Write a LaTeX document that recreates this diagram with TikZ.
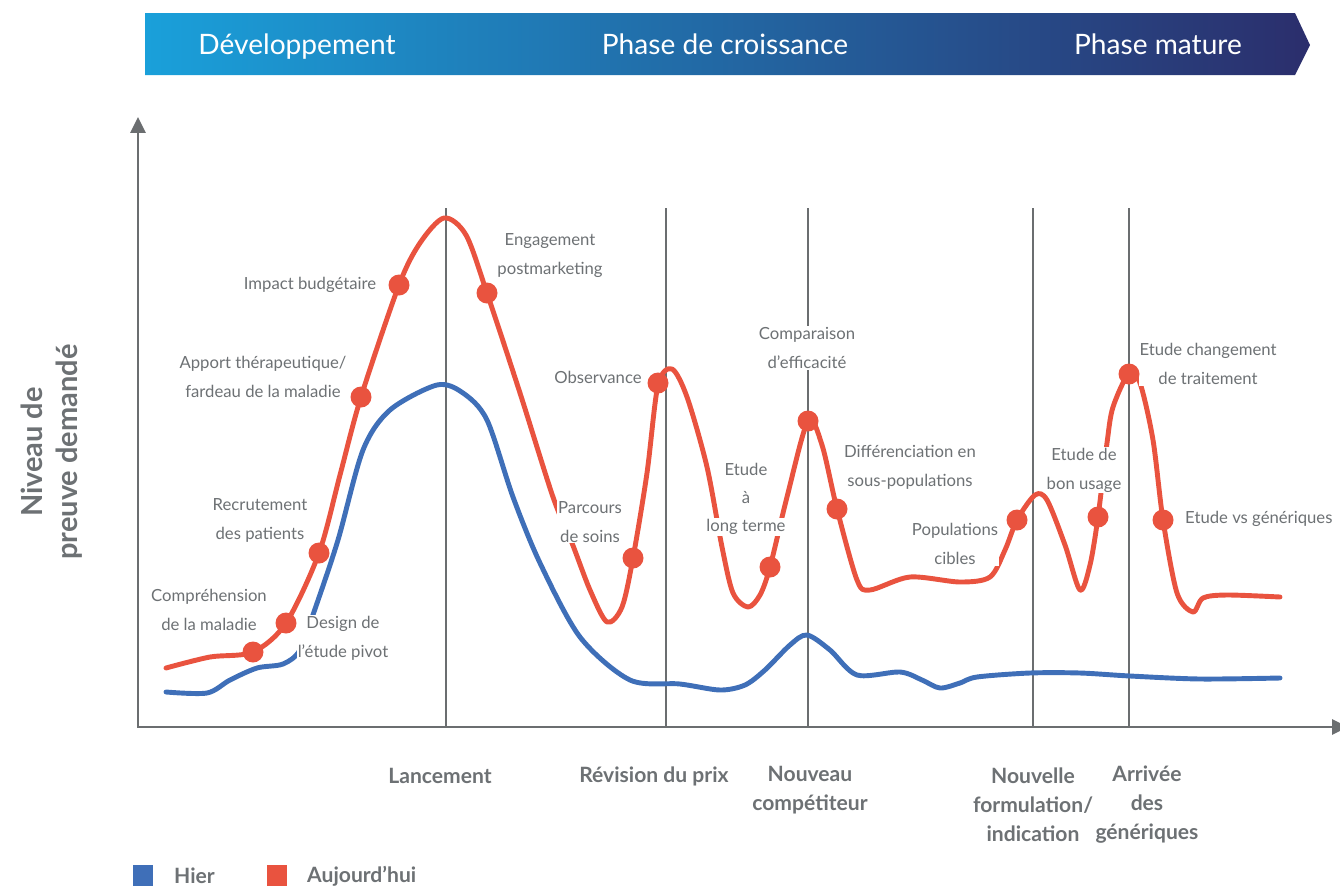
\documentclass[tikz,border=0pt]{standalone}
\usepackage{fontspec}
\setmainfont{Lato}
\usetikzlibrary{arrows.meta}

\definecolor{rouge}{HTML}{E9533F}
\definecolor{bleu}{HTML}{3F6FB8}
\definecolor{gristxt}{HTML}{6D7174}
\definecolor{grisaxe}{HTML}{6B6E70}
\definecolor{bandeA}{HTML}{1AA0DA}
\definecolor{bandeB}{HTML}{2B2E6C}

\tikzset{
  lbl/.style={text=gristxt, fill=white, inner sep=0.5pt, align=center,
    font=\fontsize{9.5}{16.5}\selectfont},
  axlbl/.style={text=gristxt, align=center, font=\bfseries\fontsize{12}{16.5}\selectfont},
  jalon/.style={draw=grisaxe, line width=1.3pt},
  courbe/.style={line width=2.8pt, line cap=round, line join=round},
  pastille/.style={fill=rouge},
}

\begin{document}
\begin{tikzpicture}[x=0.02cm, y=-0.02cm]
    \useasboundingbox (0,0) rectangle (1340,890);
    % bandeau des phases
    \shade[left color=bandeA, right color=bandeB]
      (145,13) -- (1295,13) -- (1310,45) -- (1295,75) -- (145,75) -- cycle;
    \foreach \nom/\x/\txt in {dev/297/Développement, croiss/725/Phase de croissance, mature/1158/Phase mature}{
      \node[text=white, anchor=base, font=\fontsize{16}{18}\selectfont] (\nom) at (\x,54) {\txt};
    }
    % jalons
    \foreach \x in {446, 666, 808, 1033, 1129}{
      \draw[jalon] (\x,208) -- (\x,727);
    }
    % axes
    \draw[grisaxe, line width=1.4pt, {Triangle[length=9pt, width=8.5pt]}-{Triangle[length=9pt, width=8.5pt]}]
      (138,117) -- (138,727) -- (1348,727);
    % hier
    \draw[courbe, bleu] plot[smooth, tension=0.5] coordinates {
      (166,692) (207,693) (230,680) (257,668) (283,664) (300,650) (315,609) (338,540)
      (363,450) (390,410) (437,385) (463,393) (487,420) (513,497) (540,563) (580,637)
      (630,680) (680,684) (720,690) (745,685) (765,670) (790,645) (807,635) (830,650)
      (857,675) (900,672) (922,680) (940,688) (960,683) (977,677) (1030,673) (1080,673)
      (1130,676) (1200,679) (1280,678)};
    % aujourd'hui
    \draw[courbe, rouge] plot[smooth, tension=0.5] coordinates {
      (166,668) (210,657) (253,652) (286,623) (319,553) (340,475) (361,397) (399,285)
      (420,243) (444,218) (466,235) (487,293) (520,393) (553,497) (572,543) (590,590)
      (607,622) (622,607) (633,558) (647,473) (658,385) (672,369) (687,397) (707,467)
      (722,547) (733,593) (748,607) (760,595) (770,567) (787,497) (808,421) (822,445)
      (837,509) (857,580) (870,590) (910,577) (960,582) (990,577) (1005,550) (1017,520)
      (1035,495) (1047,500) (1065,545) (1080,590) (1090,565) (1098,517) (1107,443)
      (1113,407) (1129,373) (1140,383) (1153,440) (1163,520) (1177,593) (1193,612)
      (1203,598) (1227,595) (1280,597)};
    % etiquettes
    \node[lbl] (compr) at (209,610) {Compréhension\\de la maladie};
    \node[lbl] (design) at (343,638) {Design de\\l’étude pivot};
    \node[lbl] (recru) at (260,520) {Recrutement\\des patients};
    \node[lbl] (apport) at (263,377) {Apport thérapeutique/\\fardeau de la maladie};
    \node[lbl] (impact) at (310,285) {Impact budgétaire};
    \node[lbl] (engag) at (550,256) {Engagement\\postmarketing};
    \node[lbl] (obs) at (598,377) {Observance};
    \node[lbl] (parc) at (590,522) {Parcours\\de soins};
    \node[lbl] (longtA) at (746,469) {Etude};
    \node[lbl] (longtB) at (746,498) {à};
    \node[lbl] (longtC) at (746,527) {long terme};
    \node[lbl] (effic) at (807,348) {Comparaison\\d’efficacité};
    \node[lbl] (diff) at (910,467) {Différenciation en\\sous-populations};
    \node[lbl] (popu) at (955,544) {Populations\\cibles};
    \node[lbl] (usage) at (1084,470) {Etude de\\bon usage};
    \node[lbl] (chgt) at (1208,364) {Etude changement\\de traitement};
    \node[lbl, anchor=west] (vsgen) at (1184,519) {Etude vs génériques};
    % pastilles
    \foreach \x/\y in {253/652, 286/623, 319/553, 361/397, 399/285, 487/293, 633/558, 658/383,
      770/567, 808/421, 837/509, 1017/520, 1098/517, 1129/374, 1163/520}{
      \fill[pastille] (\x,\y) circle (0.21cm);
    }
    % evenements
    \node[axlbl] (lanc) at (440,776) {Lancement};
    \node[axlbl] (prix) at (654,776) {Révision du prix};
    \node[axlbl] (compet) at (810,790) {Nouveau\\compétiteur};
    \node[axlbl] (formu) at (1033,805) {Nouvelle\\formulation/\\indication};
    \node[axlbl] (gener) at (1147,805) {Arrivée\\des\\génériques};
    % axe vertical
    \node[text=gristxt, rotate=90, align=center, font=\bfseries\fontsize{16.5}{20}\selectfont] (niveau) at (52,452) {Niveau de\\preuve demandé};
    % legende
    \fill[bleu] (133,865) rectangle (153,886);
    \node[axlbl, anchor=west] (hier) at (168,876) {Hier};
    \fill[rouge] (267,865) rectangle (287,886);
    \node[axlbl, anchor=west] (auj) at (301,876) {Aujourd’hui};
  \end{tikzpicture}
\end{document}
